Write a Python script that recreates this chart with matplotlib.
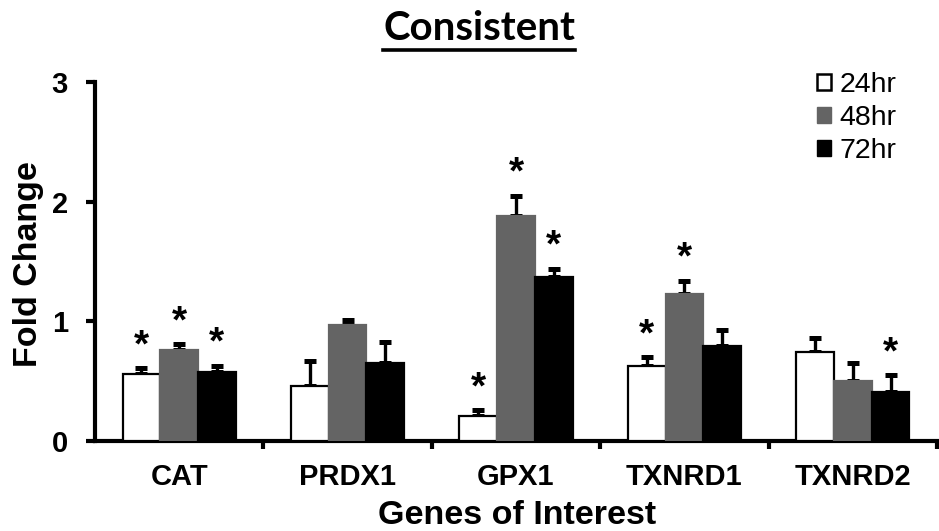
import numpy as np
import matplotlib.pyplot as plt
from matplotlib.lines import Line2D

# Data
genes = ['CAT', 'PRDX1', 'GPX1', 'TXNRD1', 'TXNRD2']
times = ['24hr', '48hr', '72hr']

fold_24 = [0.56, 0.46, 0.21, 0.63, 0.74]
fold_48 = [0.76, 0.97, 1.88, 1.23, 0.50]
fold_72 = [0.58, 0.65, 1.37, 0.79, 0.41]

err_24 = [0.05, 0.21, 0.05, 0.07, 0.12]
err_48 = [0.05, 0.04, 0.17, 0.11, 0.15]
err_72 = [0.05, 0.18, 0.07, 0.14, 0.14]

sig_24 = [True, False, True, True, False]
sig_48 = [True, False, True, True, False]
sig_72 = [True, False, True, False, True]

plt.rcParams['font.family'] = ['Liberation Sans', 'DejaVu Sans']

fig = plt.figure(figsize=(9.39, 5.31), dpi=100)
ax = fig.add_axes([95 / 939, 1 - 441 / 531, 842 / 939, 359 / 531])

x = np.arange(len(genes))
w = 0.224
series = [
    (fold_24, err_24, sig_24, 'white', 'black', -w),
    (fold_48, err_48, sig_48, '#646464', '#646464', 0),
    (fold_72, err_72, sig_72, 'black', 'black', w),
]

for vals, errs, sigs, fc, ec, off in series:
    ax.bar(x + off, vals, w, color=fc, edgecolor=ec, linewidth=1.6, zorder=3)
    ax.errorbar(x + off, vals, yerr=[np.zeros(len(vals)), errs], fmt='none',
                ecolor='black', elinewidth=2.4, capsize=4.5, capthick=3.6, zorder=2)
    for xi, v, e, s in zip(x + off, vals, errs, sigs):
        if s:
            ax.annotate('*', (xi, v + e), xytext=(0, 8.5), textcoords='offset points',
                        ha='center', va='baseline', fontsize=28, fontweight='bold')

ax.set_xlim(-0.5, 4.5)
ax.set_ylim(0, 3)
ax.set_yticks([0, 1, 2, 3])
ax.set_xticks(x)
ax.set_xticklabels(genes, fontsize=21, fontweight='bold')
ax.set_xticks(x + 0.5, minor=True)
ax.tick_params(axis='x', which='major', length=0, pad=16)
ax.tick_params(axis='x', which='minor', length=6, width=3, direction='out')
ax.tick_params(axis='y', length=6.5, width=3, direction='out', pad=13,
               labelsize=21)
for lbl in ax.get_yticklabels():
    lbl.set_fontweight('bold')

for side in ['top', 'right']:
    ax.spines[side].set_visible(False)
for side in ['left', 'bottom']:
    ax.spines[side].set_linewidth(3)

fig.text(29 / 939, 1 - 264 / 531, 'Fold Change', rotation=90, ha='center',
         va='center', fontsize=24.5, fontweight='bold')
fig.text(517 / 939, 1 - 516 / 531, 'Genes of Interest', ha='center',
         va='center', fontsize=24.5, fontweight='bold')

handles = [
    plt.Rectangle((0, 0), 1, 1, facecolor='white', edgecolor='black', linewidth=1.8),
    plt.Rectangle((0, 0), 1, 1, facecolor='#646464', edgecolor='#646464'),
    plt.Rectangle((0, 0), 1, 1, facecolor='black', edgecolor='black'),
]
ax.legend(handles, times, loc='upper left', bbox_to_anchor=(0.844, 1.06),
          frameon=False, fontsize=20.5, handlelength=0.5, handleheight=0.5,
          handletextpad=0.3, labelspacing=0.25, borderaxespad=0)

# title with underline
title = fig.text(479 / 939, 1 - 29 / 531, 'Consistent', ha='center', va='center',
                 fontsize=29, fontweight='bold', family=['Lato', 'DejaVu Sans'])
fig.canvas.draw()
bb = title.get_window_extent().transformed(fig.transFigure.inverted())
fig.add_artist(Line2D([bb.x0, bb.x1], [bb.y0 - 0.004, bb.y0 - 0.004],
                      transform=fig.transFigure, color='black', linewidth=2.6))

fig.savefig('out.png', dpi=100)
